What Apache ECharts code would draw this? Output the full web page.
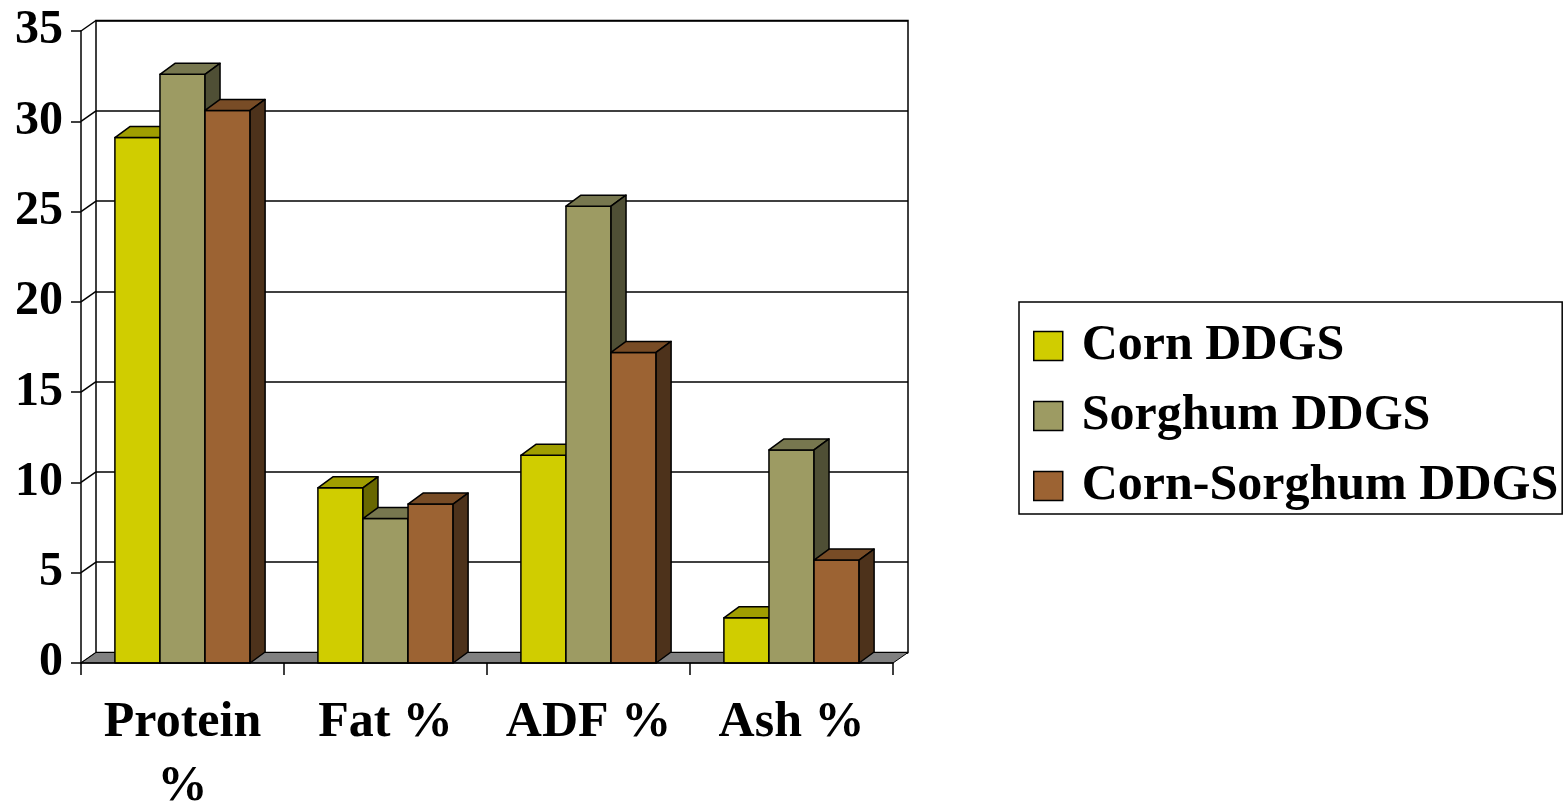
<!DOCTYPE html>
<html>
<head>
<meta charset="utf-8">
<script src="https://cdn.jsdelivr.net/npm/echarts@6/dist/echarts.min.js"></script>
<style>
  html, body { margin: 0; padding: 0; background: #fff; }
  #chart { width: 1564px; height: 802px; }
</style>
</head>
<body>
<div id="chart"></div>
<script>
// data
var categories = ["Protein\n%", "Fat %", "ADF %", "Ash %"];
var seriesNames = ["Corn DDGS", "Sorghum DDGS", "Corn-Sorghum DDGS"];
var cornDDGS = [29.1, 9.7, 11.5, 2.5];
var sorghumDDGS = [32.6, 8.0, 25.3, 11.8];
var cornSorghumDDGS = [30.6, 8.8, 17.2, 5.7];
var yTicks = [0, 5, 10, 15, 20, 25, 30, 35];

var FONT = "'Liberation Serif', 'Times New Roman', serif";
// depth of the fake 3d look
var DX = 15, DY = -11;     // bars
var WDX = 15, WDY = -10.5; // walls

// front, top, side colour of each series
var palette = [
  ["#d0cd00", "#a09e00", "#686700"],
  ["#9d9b63", "#77774f", "#4f4f35"],
  ["#9c6333", "#784c26", "#4d321b"]
];

var chart = echarts.init(document.getElementById("chart"));

function toData(arr) {
  return arr.map(function (v, i) { return [i, v]; });
}

function barRenderer(idx) {
  var c = palette[idx];
  return function (params, api) {
    var cat = api.value(0), val = api.value(1);
    var band = api.size([1, 0])[0];
    var w = band * 0.222;
    var base = api.coord([cat, 0]);
    var top = api.coord([cat, val]);
    var x0 = base[0] - 1.5 * w + idx * w;
    var x1 = x0 + w;
    var y0 = base[1], y1 = top[1];
    var st = { stroke: "#000", lineWidth: 1.5, lineJoin: "round" };
    return {
      type: "group",
      children: [
        {
          type: "polygon",
          shape: { points: [[x0, y1], [x1, y1], [x1, y0], [x0, y0]] },
          style: Object.assign({ fill: c[0] }, st)
        },
        {
          type: "polygon",
          shape: { points: [[x0, y1], [x0 + DX, y1 + DY], [x1 + DX, y1 + DY], [x1, y1]] },
          style: Object.assign({ fill: c[1] }, st)
        },
        {
          type: "polygon",
          shape: { points: [[x1, y1], [x1 + DX, y1 + DY], [x1 + DX, y0 + DY], [x1, y0]] },
          style: Object.assign({ fill: c[2] }, st)
        }
      ]
    };
  };
}

var option = {
  backgroundColor: "#fff",
  animation: false,
  legend: {
    orient: "vertical",
    left: 1019,
    top: 302,
    padding: [19, 4, 3, 14],
    itemGap: 20,
    itemWidth: 29,
    itemHeight: 29,
    borderColor: "#000",
    borderWidth: 1.5,
    icon: "rect",
    textStyle: {
      fontFamily: FONT,
      fontSize: 50,
      fontWeight: "bold",
      color: "#000",
      padding: [0, 0, 0, 14]
    },
    data: seriesNames.map(function (n, i) {
      return {
        name: n,
        itemStyle: { color: palette[i][0], borderColor: "#000", borderWidth: 1.5 }
      };
    })
  },
  grid: [
    // front plane
    { left: 81, right: 671, top: 31, bottom: 139, outerBoundsMode: "none", containLabel: false },
    // back wall
    {
      left: 81 + WDX, right: 671 - WDX, top: 31 + WDY, bottom: 139 - WDY,
      outerBoundsMode: "none", containLabel: false,
      show: true, borderColor: "#000", borderWidth: 1.5
    }
  ],
  xAxis: [
    {
      type: "category",
      gridIndex: 0,
      data: categories,
      z: 10,
      axisLine: { show: true, lineStyle: { color: "#000", width: 1.5 } },
      axisTick: {
        show: true,
        interval: 0,
        alignWithLabel: false,
        length: 12,
        lineStyle: { color: "#000", width: 1.5 }
      },
      axisLabel: {
        interval: 0,
        margin: 28,
        fontFamily: FONT,
        fontSize: 50,
        fontWeight: "bold",
        color: "#000",
        lineHeight: 64
      }
    },
    {
      type: "category",
      gridIndex: 1,
      data: categories,
      show: false
    }
  ],
  yAxis: [
    {
      type: "value",
      gridIndex: 0,
      min: 0,
      max: 35,
      interval: 5,
      z: 10,
      splitLine: { show: false },
      axisLine: { show: true, lineStyle: { color: "#000", width: 1.5 } },
      axisTick: { show: true, length: 10, lineStyle: { color: "#000", width: 1.5 } },
      axisLabel: {
        margin: 18,
        fontFamily: FONT,
        fontSize: 48,
        fontWeight: "bold",
        color: "#000"
      }
    },
    {
      type: "value",
      gridIndex: 1,
      min: 0,
      max: 35,
      interval: 5,
      axisLine: { show: false },
      axisTick: { show: false },
      axisLabel: { show: false },
      splitLine: { show: true, lineStyle: { color: "#000", width: 1.5 } }
    }
  ],
  series: [
    {
      // left side wall lines
      type: "custom",
      xAxisIndex: 0,
      yAxisIndex: 0,
      z: 1,
      silent: true,
      clip: false,
      data: yTicks.map(function (v) { return [0, v]; }),
      renderItem: function (params, api) {
        var cs = params.coordSys;
        var y = api.coord([0, api.value(1)])[1];
        return {
          type: "line",
          shape: { x1: cs.x, y1: y, x2: cs.x + WDX, y2: y + WDY },
          style: { stroke: "#000", lineWidth: 1.5 }
        };
      }
    },
    {
      // floor
      type: "custom",
      xAxisIndex: 0,
      yAxisIndex: 0,
      z: 1,
      silent: true,
      clip: false,
      data: [[0, 0]],
      renderItem: function (params, api) {
        var cs = params.coordSys;
        var y = api.coord([0, 0])[1];
        var xa = cs.x, xb = cs.x + cs.width;
        return {
          type: "polygon",
          shape: { points: [[xa, y], [xb, y], [xb + WDX, y + WDY], [xa + WDX, y + WDY]] },
          style: { fill: "#808080", stroke: "#000", lineWidth: 1 }
        };
      }
    },
    {
      name: seriesNames[0],
      type: "custom",
      xAxisIndex: 0,
      yAxisIndex: 0,
      z: 3,
      clip: false,
      itemStyle: { color: palette[0][0] },
      encode: { x: 0, y: 1 },
      data: toData(cornDDGS),
      renderItem: barRenderer(0)
    },
    {
      name: seriesNames[1],
      type: "custom",
      xAxisIndex: 0,
      yAxisIndex: 0,
      z: 3,
      clip: false,
      itemStyle: { color: palette[1][0] },
      encode: { x: 0, y: 1 },
      data: toData(sorghumDDGS),
      renderItem: barRenderer(1)
    },
    {
      name: seriesNames[2],
      type: "custom",
      xAxisIndex: 0,
      yAxisIndex: 0,
      z: 3,
      clip: false,
      itemStyle: { color: palette[2][0] },
      encode: { x: 0, y: 1 },
      data: toData(cornSorghumDDGS),
      renderItem: barRenderer(2)
    }
  ]
};

chart.setOption(option);
</script>
</body>
</html>
